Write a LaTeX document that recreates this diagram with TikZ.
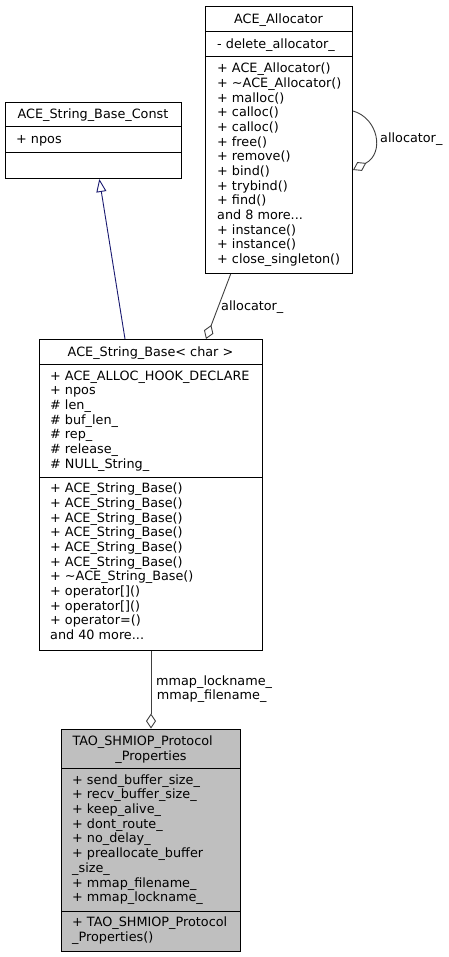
\documentclass[tikz,border=0pt]{standalone}
\usepackage{fontspec}
\setmainfont{DejaVu Sans}
\usetikzlibrary{arrows.meta}
\definecolor{edgegray}{HTML}{404040}
\definecolor{inhblue}{HTML}{191970}
\definecolor{fillgray}{HTML}{BFBFBF}
\newcommand\threedots{...}
\tikzset{
  umlbox/.style={draw=black, line width=1pt, inner sep=0pt, anchor=north west},
  sepline/.style={draw=black, line width=1pt},
  txt/.style={inner sep=0pt, anchor=base west, font=\fontsize{12.8}{14.7}\selectfont},
  ctxt/.style={inner sep=0pt, anchor=base, font=\fontsize{12.8}{14.7}\selectfont},
  agg/.style={draw=edgegray, line width=0.9pt, -{Diamond[open, length=15pt, width=10pt]}},
  inh/.style={draw=inhblue, line width=0.9pt, -{Triangle[open, length=13pt, width=10pt]}},
}
\begin{document}
\begin{tikzpicture}[x=1pt, y=-1pt]
\useasboundingbox (0,0) rectangle (448,957);

% ---------- ACE_Allocator ----------
\node[umlbox, minimum width=147pt, minimum height=266.7pt] (alloc) at (205,6.3) {};
\draw[sepline] (205,32) -- (352,32);
\draw[sepline] (205,57) -- (352,57);
\node[ctxt] (alloctitle) at (278.5,23.3) {ACE\_Allocator};
\node[txt] (allocattr) at (217,48.3) {- delete\_allocator\_};
\foreach [count=\i] \t in {%
  + ACE\_Allocator(),
  + \textasciitilde ACE\_Allocator(),
  + malloc(),
  + calloc(),
  + calloc(),
  + free(),
  + remove(),
  + bind(),
  + trybind(),
  + find(),
  and 8 more\threedots,
  + instance(),
  + instance(),
  + close\_singleton()}
  \node[txt] (allocm\i) at (217,{72.7+14.67*(\i-1)}) {\t};

% ---------- ACE_String_Base_Const ----------
\node[umlbox, minimum width=176pt, minimum height=76pt] (const) at (5,102) {};
\draw[sepline] (5,127) -- (181,127);
\draw[sepline] (5,153) -- (181,153);
\node[ctxt] (consttitle) at (93,119) {ACE\_String\_Base\_Const};
\node[txt] (constattr) at (16,143.5) {+ npos};

% ---------- ACE_String_Base<char> ----------
\node[umlbox, minimum width=223pt, minimum height=311pt] (strbase) at (39,339) {};
\draw[sepline] (39,364) -- (262,364);
\draw[sepline] (39,477) -- (262,477);
\node[ctxt] (strbasetitle) at (150.5,356) {ACE\_String\_Base< char >};
\foreach [count=\i] \t in {%
  + ACE\_ALLOC\_HOOK\_DECLARE,
  + npos,
  \# len\_,
  \# buf\_len\_,
  \# rep\_,
  \# release\_,
  \# NULL\_String\_}
  \node[txt] (strbasea\i) at (50,{380.3+14.67*(\i-1)}) {\t};
\foreach [count=\i] \t in {%
  + ACE\_String\_Base(),
  + ACE\_String\_Base(),
  + ACE\_String\_Base(),
  + ACE\_String\_Base(),
  + ACE\_String\_Base(),
  + ACE\_String\_Base(),
  + \textasciitilde ACE\_String\_Base(),
  + operator[](),
  + operator[](),
  + operator=(),
  and 40 more\threedots}
  \node[txt] (strbasem\i) at (50,{492.9+14.67*(\i-1)}) {\t};

% ---------- TAO_SHMIOP_Protocol_Properties ----------
\node[umlbox, fill=fillgray, minimum width=179pt, minimum height=222.5pt] (tao) at (61,728.5) {};
\draw[sepline] (61,768) -- (240,768);
\draw[sepline] (61,911) -- (240,911);
\node[txt] (taotitle1) at (72.3,745.5) {TAO\_SHMIOP\_Protocol};
\node[ctxt] (taotitle2) at (151,760.2) {\_Properties};
\foreach [count=\i] \t in {%
  + send\_buffer\_size\_,
  + recv\_buffer\_size\_,
  + keep\_alive\_,
  + dont\_route\_,
  + no\_delay\_,
  + preallocate\_buffer,
  \_size\_,
  + mmap\_filename\_,
  + mmap\_lockname\_}
  \node[txt] (taoa\i) at (72,{784.3+14.67*(\i-1)}) {\t};
\node[txt] (taom1) at (72,926.7) {+ TAO\_SHMIOP\_Protocol};
\node[txt] (taom2) at (72,941.4) {\_Properties()};

% ---------- connectors ----------
\draw[inh] ([xshift=86pt]strbase.north west) -- ([xshift=94.3pt]const.south west);
\draw[agg] ([xshift=25.7pt]alloc.south west) -- ([xshift=167pt]strbase.north west);
\node[txt] (lblalloc) at (221,310) {allocator\_};
\draw[agg] ([yshift=-104.7pt]alloc.north east) .. controls (378,118) and (385,153) .. ([yshift=-163.7pt]alloc.north east);
\node[txt] (lblself) at (380,143) {allocator\_};
\draw[agg] (strbase.south) -- (tao.north);
\node[txt] (lblmmap1) at (156,685) {mmap\_lockname\_};
\node[txt] (lblmmap2) at (156.7,699.3) {mmap\_filename\_};
\end{tikzpicture}
\end{document}
